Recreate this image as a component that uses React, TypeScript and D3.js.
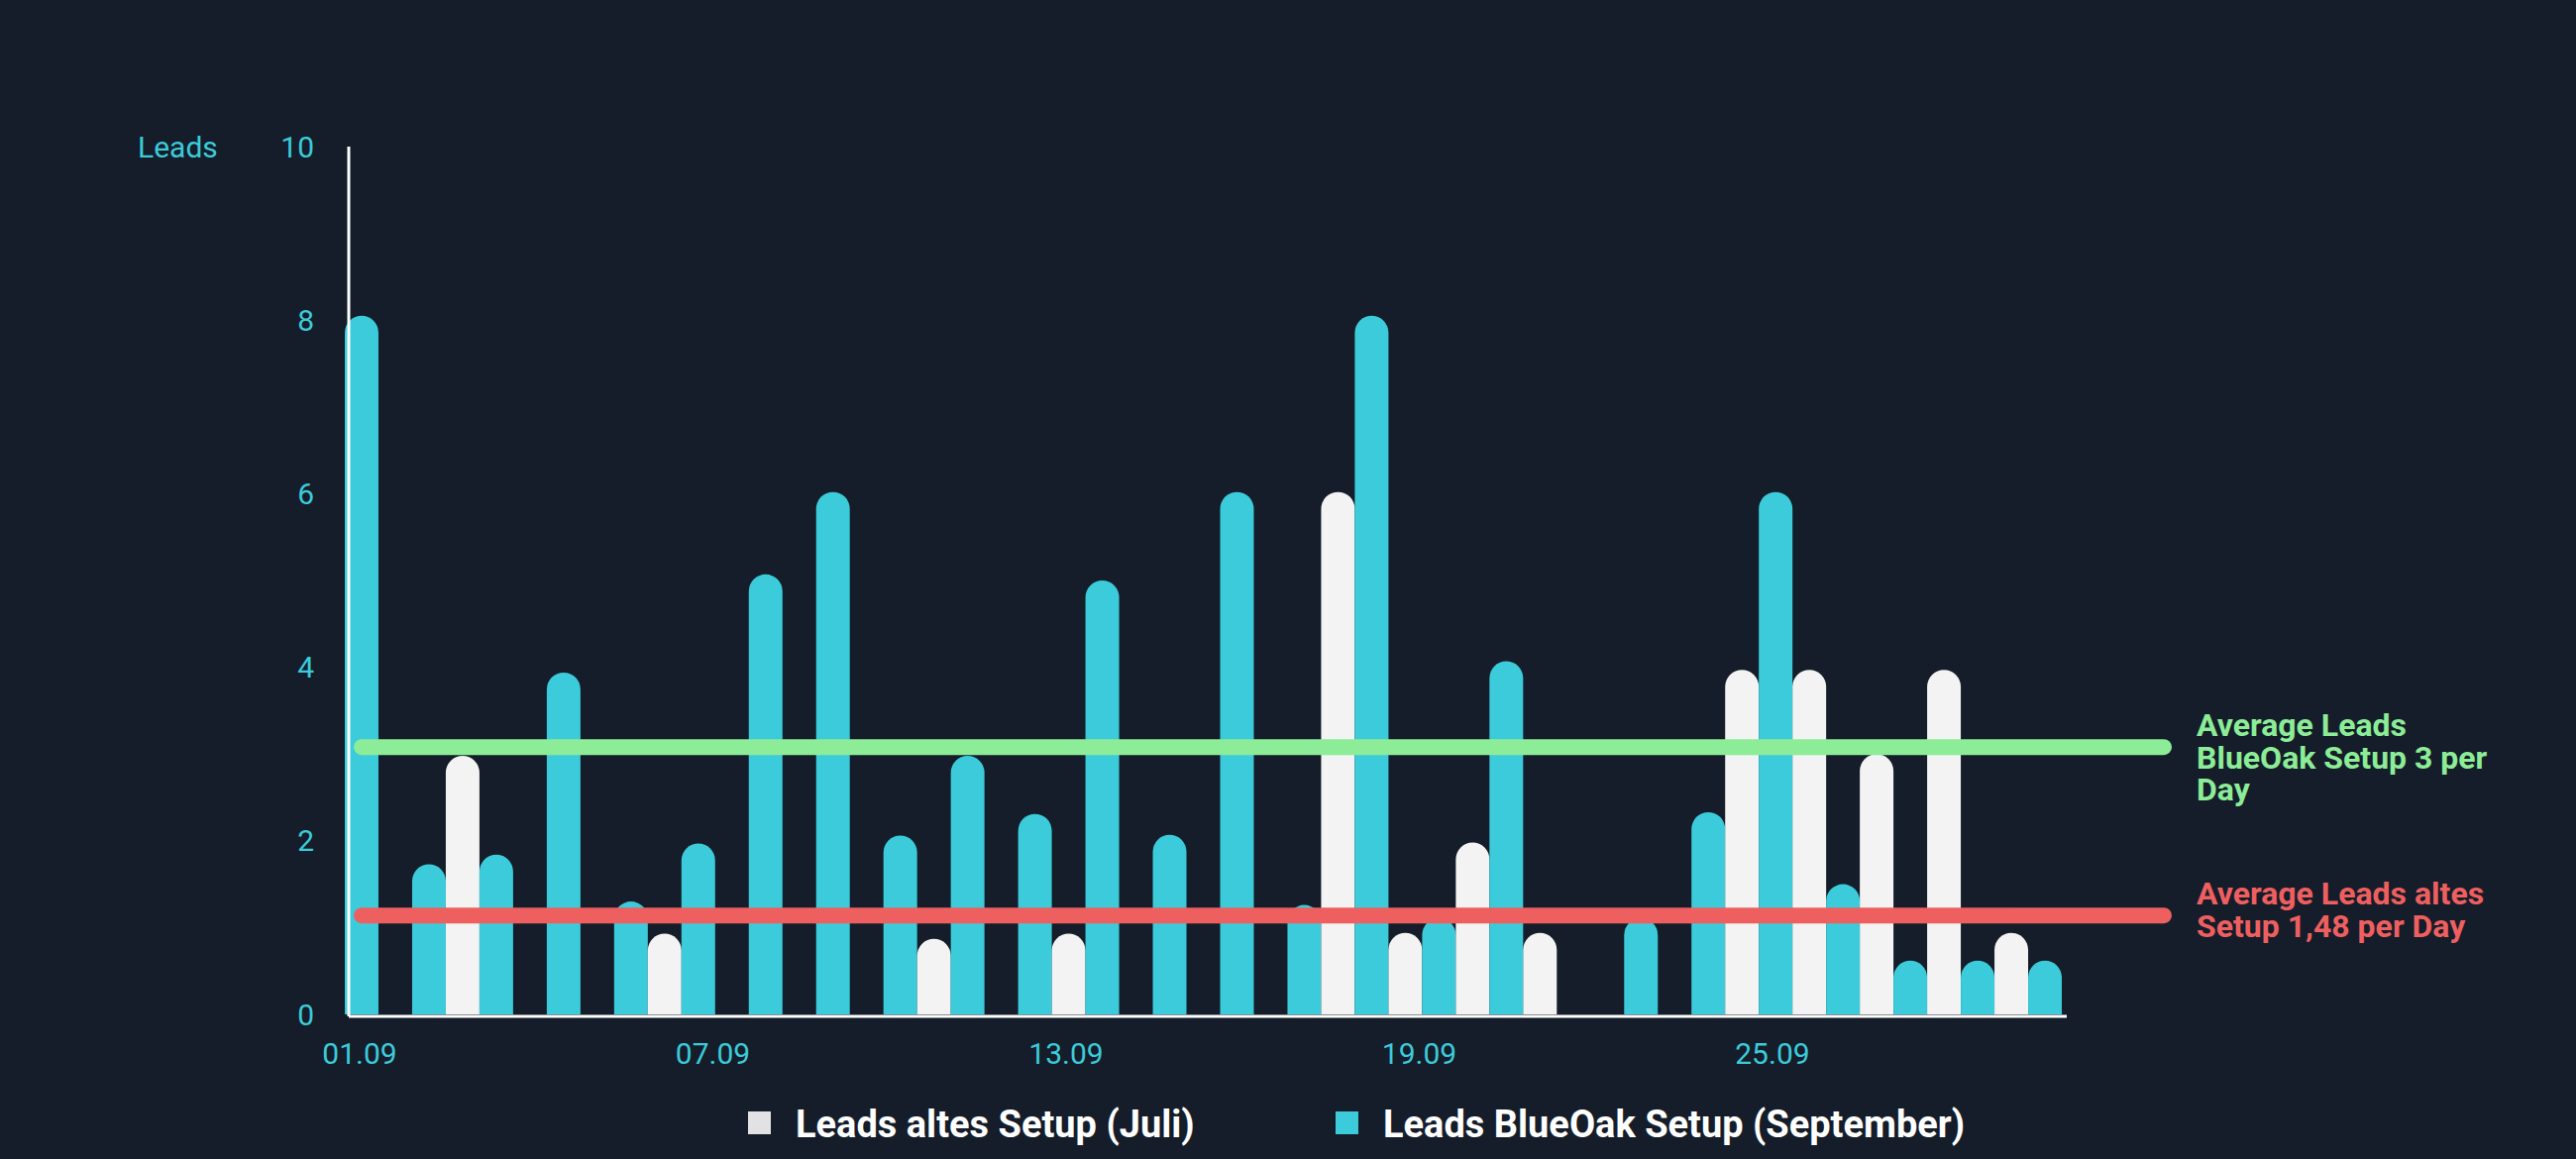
import React, { useRef, useEffect } from 'react';
import * as d3 from 'd3';

// bar groups (one pair of bars per group)
const groups = d3.range(26).map(i => `g${i}`);
const septValues = [8.05, 1.73, 1.84, 3.94, 1.3, 1.97, 5.07, 6.02, 2.06, 2.98, 2.31, 5.0, 2.07, 6.02, 1.26, 8.05, 1.11, 4.07, 0, 1.11, 2.33, 6.02, 1.5, 0.62, 0.62, 0.62];
const juliValues = [0, 2.98, 0, 0, 0.93, 0, 0, 0, 0.87, 0, 0.93, 0, 0, 0, 6.02, 0.94, 1.98, 0.94, 0, 0, 3.97, 3.97, 3.0, 3.97, 0.94, 0];

// x axis labels
const days = d3.range(1, 31).map(d => `${String(d).padStart(2, '0')}.09`);
const tickLabels = ['01.09', '07.09', '13.09', '19.09', '25.09'];
const yTicks = [0, 2, 4, 6, 8, 10];

const series = ['sept', 'juli'];
const seriesNames = ['Leads altes Setup (Juli)', 'Leads BlueOak Setup (September)'];

const averageLines = [
  { value: 3.08, lines: ['Average Leads', 'BlueOak Setup 3 per', 'Day'], color: '#8cec97' },
  { value: 1.14, lines: ['Average Leads altes', 'Setup 1,48 per Day'], color: '#ee5f60' },
];

const BG = '#141d29';
const TEAL = '#3ccbda';
const WHITE = '#f3f3f3';
const FONT = 'Roboto, "Noto Sans", sans-serif';

const App = () => {
  const ref = useRef<SVGSVGElement | null>(null);

  useEffect(() => {
    document.body.style.margin = '0';
    if (!ref.current) return;
    const width = 2600;
    const height = 1170;

    d3.select(ref.current).selectAll('*').remove();
    const svg = d3.select(ref.current)
      .attr('width', width)
      .attr('height', height)
      .attr('viewBox', [0, 0, width, height] as any)
      .style('display', 'block');

    svg.append('rect').attr('width', width).attr('height', height).attr('fill', BG);

    const plotLeft = 352;
    const plotRight = 2086;

    const y = d3.scaleLinear().domain([0, 10]).range([1024, 148]);
    const x0 = d3.scaleBand<string>().domain(groups).range([348, 2115]).padding(0);
    const x1 = d3.scaleBand<string>().domain(series).range([0, x0.bandwidth()]).padding(0);
    const xLab = d3.scalePoint<string>().domain(days).range([363, plotRight]);

    // bars with rounded tops
    const bw = x1.bandwidth();
    const r = bw / 2;
    const barPath = (x: number, v: number) => {
      const top = y(v);
      const base = y(0);
      if (base - top <= 0) return '';
      const rr = Math.min(r, base - top);
      return `M${x},${base}V${top + rr}A${r},${rr} 0 0 1 ${x + bw},${top + rr}V${base}Z`;
    };

    const barData = groups.flatMap((g, i) => [
      { g, s: 'sept', v: septValues[i] },
      { g, s: 'juli', v: juliValues[i] },
    ]);

    svg.append('g')
      .selectAll('path')
      .data(barData)
      .join('path')
      .attr('d', d => barPath((x0(d.g) as number) + (x1(d.s) as number), d.v))
      .attr('fill', d => (d.s === 'sept' ? TEAL : WHITE));

    // axes lines
    svg.append('line')
      .attr('x1', plotLeft).attr('x2', plotLeft)
      .attr('y1', y(10)).attr('y2', y(0) + 2)
      .attr('stroke', '#ffffff').attr('stroke-width', 3);
    svg.append('line')
      .attr('x1', plotLeft).attr('x2', plotRight)
      .attr('y1', y(0) + 2).attr('y2', y(0) + 2)
      .attr('stroke', '#ffffff').attr('stroke-width', 3);

    // y tick labels
    svg.append('g')
      .selectAll('text')
      .data(yTicks)
      .join('text')
      .attr('x', 317)
      .attr('y', d => y(d))
      .attr('dy', '0.35em')
      .attr('text-anchor', 'end')
      .style('font-family', FONT)
      .style('font-size', '30px')
      .attr('fill', TEAL)
      .text(d => d);

    svg.append('text')
      .attr('x', 139)
      .attr('y', y(10))
      .attr('dy', '0.35em')
      .style('font-family', FONT)
      .style('font-size', '30px')
      .attr('fill', TEAL)
      .text('Leads');

    // x tick labels
    svg.append('g')
      .selectAll('text')
      .data(tickLabels)
      .join('text')
      .attr('x', d => xLab(d) as number)
      .attr('y', 1074)
      .attr('text-anchor', 'middle')
      .style('font-family', FONT)
      .style('font-size', '30px')
      .attr('fill', TEAL)
      .text(d => d);

    // average lines + labels
    const avg = svg.append('g');
    averageLines.forEach(a => {
      avg.append('line')
        .attr('x1', 365).attr('x2', 2184)
        .attr('y1', y(a.value)).attr('y2', y(a.value))
        .attr('stroke', a.color)
        .attr('stroke-width', 16)
        .attr('stroke-linecap', 'round');
      const n = a.lines.length;
      const lh = 32.5;
      const firstBase = n === 3 ? y(a.value) - 11 : y(a.value) - 11;
      const t = avg.append('text')
        .style('font-family', FONT)
        .style('font-size', '32px')
        .style('font-weight', 'bold')
        .attr('fill', a.color);
      a.lines.forEach((l, i) => {
        t.append('tspan')
          .attr('x', 2217)
          .attr('y', firstBase + i * lh)
          .text(l);
      });
    });

    // legend
    const legendX = [755, 1348];
    const leg = svg.append('g');
    seriesNames.forEach((name, i) => {
      leg.append('rect')
        .attr('x', legendX[i]).attr('y', 1122)
        .attr('width', 23).attr('height', 23)
        .attr('fill', i === 0 ? '#e2e2e4' : TEAL);
      leg.append('text')
        .attr('x', legendX[i] + 48)
        .attr('y', 1148)
        .style('font-family', FONT)
        .style('font-size', '38px')
        .style('font-weight', 'bold')
        .attr('fill', '#ffffff')
        .text(name);
    });
  }, []);

  return <svg ref={ref} />;
};

export default App;
